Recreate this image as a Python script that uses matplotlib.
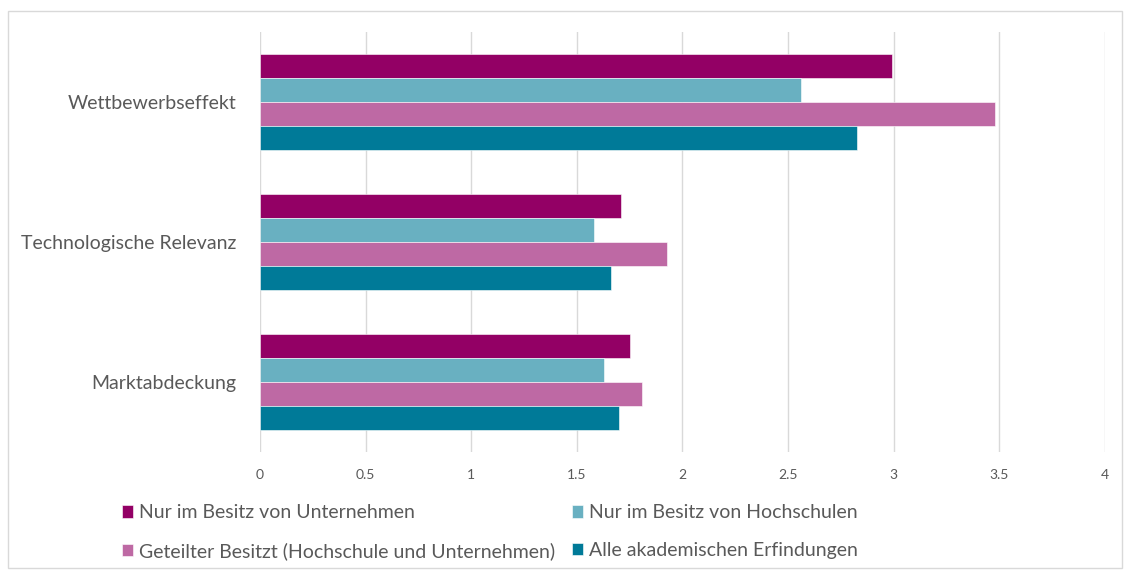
import matplotlib
matplotlib.use("Agg")
import matplotlib.pyplot as plt
import numpy as np
from matplotlib.patches import Rectangle

categories = ["Wettbewerbseffekt", "Technologische Relevanz", "Marktabdeckung"]
series_names = [
    "Nur im Besitz von Unternehmen",
    "Nur im Besitz von Hochschulen",
    "Geteilter Besitzt (Hochschule und Unternehmen)",
    "Alle akademischen Erfindungen",
]
nur_unternehmen = [2.99, 1.71, 1.75]
nur_hochschulen = [2.56, 1.58, 1.63]
geteilt = [3.48, 1.925, 1.81]
alle = [2.825, 1.66, 1.70]
series_values = [nur_unternehmen, nur_hochschulen, geteilt, alle]
colors = ["#930065", "#69B0C1", "#BE69A4", "#007A98"]
xticks = [0, 0.5, 1, 1.5, 2, 2.5, 3, 3.5, 4]
xtick_labels = ["0", "0.5", "1", "1.5", "2", "2.5", "3", "3.5", "4"]

plt.rcParams['font.family'] = ['Lato', 'DejaVu Sans']
text_color = "#595959"

W, H = 1125, 572
fig = plt.figure(figsize=(W / 100, H / 100), dpi=100)
fig.patches.append(Rectangle((8 / W, 4 / H), 1114 / W, 557 / H, transform=fig.transFigure,
                             fill=False, edgecolor="#D9D9D9", linewidth=1))

ax = fig.add_axes([260 / W, 1 - 452 / H, 845 / W, 420 / H])

n = len(categories)
bar_h = 0.172
ypos = np.arange(n)[::-1].astype(float)
for i, (vals, c, name) in enumerate(zip(series_values, colors, series_names)):
    offs = (1.5 - i) * bar_h
    ax.barh(ypos + offs, vals, height=bar_h, color=c, label=name,
            edgecolor="white", linewidth=0.4, zorder=3)

ax.set_xlim(0, 4)
ax.set_ylim(-0.5, n - 0.5)
ax.set_xticks(xticks)
ax.set_xticklabels(xtick_labels, fontsize=10, color=text_color)
ax.set_yticks(ypos)
ax.set_yticklabels(categories, fontsize=14, color=text_color)
ax.tick_params(axis='both', length=0)
ax.tick_params(axis='x', pad=12)
ax.tick_params(axis='y', pad=17)
ax.grid(axis='x', color="#D9D9D9", linewidth=1, zorder=0)
for s in ax.spines.values():
    s.set_visible(False)

handles, labels = ax.get_legend_handles_labels()
order = [0, 2, 1, 3]
leg = fig.legend([handles[i] for i in order], [labels[i] for i in order],
                 ncol=2, loc="upper left", bbox_to_anchor=(104 / W, 1 - 487 / H),
                 frameon=False, fontsize=14, handlelength=0.6, handleheight=0.6,
                 handletextpad=0.3, columnspacing=0.85, labelspacing=1.05,
                 labelcolor=text_color)

fig.savefig("out.png", dpi=100, facecolor="white")
